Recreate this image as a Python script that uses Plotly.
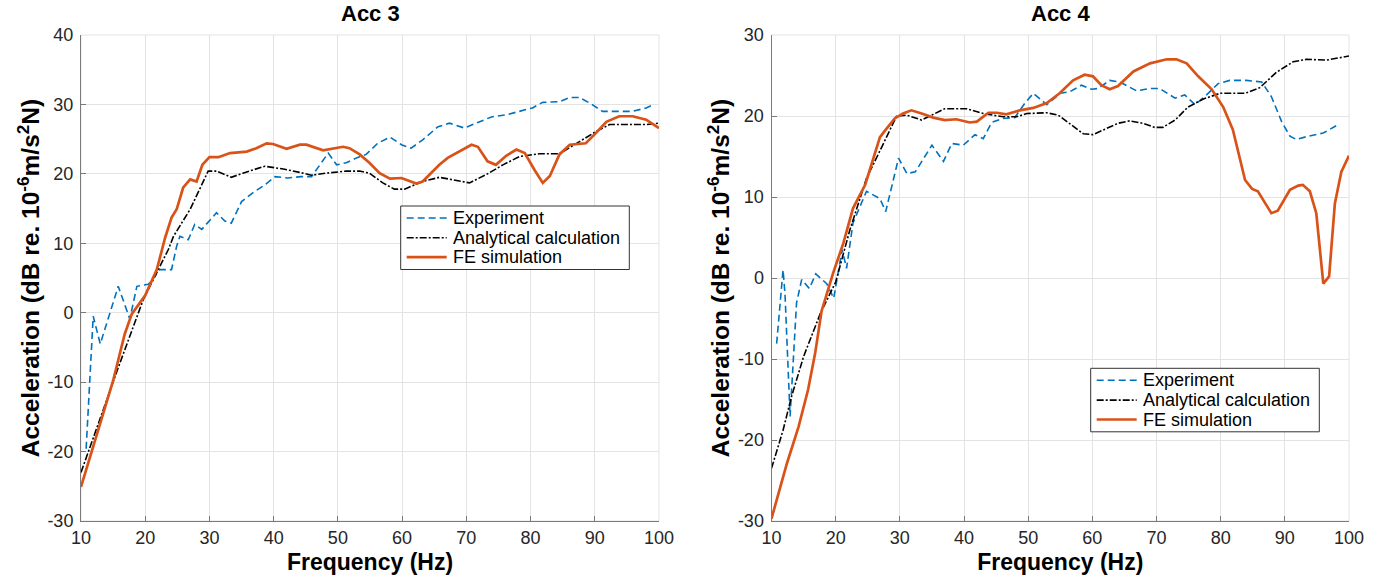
import plotly.graph_objects as go

# ---------------- data ----------------
# Acc 3
acc3_exp_f = [10.8, 11.9, 13.0, 15.8, 17.6, 18.7, 20.5, 22.3, 24.1, 24.9, 25.4, 26.7, 27.7, 28.8, 31.1, 32.4,
              33.4, 35.0, 36.8, 38.6, 40.2, 42.2, 44.3, 45.9, 48.5, 49.8, 51.3, 52.9, 54.4, 56.2, 58.1, 59.9,
              61.4, 63.2, 65.6, 67.4, 69.7, 71.5, 73.9, 76.2, 78.8, 80.3, 81.9, 84.5, 86.1, 87.6, 89.4, 91.2,
              93.3, 95.9, 98.0, 99.0]
acc3_exp_a = [-19.6, -0.5, -4.5, 3.8, -0.9, 3.8, 4.1, 6.2, 6.2, 9.6, 11.0, 10.5, 12.7, 12.0, 14.4, 13.2,
              12.9, 16.0, 17.3, 18.4, 19.6, 19.4, 19.6, 19.6, 23.0, 21.3, 21.6, 22.3, 22.8, 24.4, 25.3, 24.2,
              23.7, 24.9, 26.8, 27.3, 26.6, 27.3, 28.2, 28.5, 29.2, 29.5, 30.3, 30.4, 31.0, 31.0, 30.1, 29.0,
              29.0, 29.0, 29.5, 29.9]

acc3_ana_f = [10, 15.8, 19.7, 23.6, 24.4, 27.0, 29.8, 31.1, 33.4, 35.2, 38.6, 41.5, 44.1, 45.9, 48.2, 51.3,
              53.4, 54.9, 57.0, 58.8, 60.4, 63.2, 65.8, 67.9, 70.5, 73.1, 75.7, 78.3, 81.4, 84.5, 87.1, 90.2,
              92.3, 95.4, 98.0, 100]
acc3_ana_a = [-23.0, -7.9, 1.9, 9.1, 11.0, 14.9, 20.4, 20.4, 19.5, 20.1, 21.1, 20.7, 20.2, 19.8, 20.1, 20.4,
              20.4, 20.1, 18.7, 17.8, 17.8, 18.9, 19.5, 19.1, 18.7, 19.9, 21.3, 22.5, 22.9, 22.9, 24.4, 26.1,
              27.1, 27.1, 27.1, 27.3]

acc3_fe_f = [10, 15.0, 16.8, 17.9, 20.0, 21.0, 21.8, 23.1, 24.1, 24.9, 25.9, 27.0, 28.0, 28.9, 30.0, 31.4,
             33.2, 35.8, 37.3, 38.9, 39.9, 42.0, 44.1, 45.1, 47.7, 50.8, 51.8, 53.4, 54.9, 56.5, 58.1, 59.9,
             62.2, 63.2, 65.8, 67.1, 68.9, 70.8, 71.8, 73.3, 74.6, 76.2, 77.8, 79.1, 80.6, 81.9, 83.0, 84.5,
             86.1, 88.6, 90.2, 91.8, 93.8, 95.9, 98.0, 100]
acc3_fe_a = [-25.1, -9.8, -3.1, -0.2, 2.5, 4.6, 6.2, 10.8, 13.7, 14.9, 18.0, 19.2, 18.9, 21.3, 22.4, 22.4,
             23.0, 23.2, 23.7, 24.4, 24.3, 23.6, 24.2, 24.2, 23.4, 23.9, 23.7, 22.8, 21.6, 20.1, 19.3, 19.4,
             18.6, 18.9, 21.3, 22.3, 23.2, 24.2, 23.9, 21.8, 21.3, 22.6, 23.5, 23.0, 20.6, 18.7, 19.7, 22.8,
             24.2, 24.4, 25.9, 27.5, 28.3, 28.3, 27.8, 26.6]

# Acc 4
acc4_exp_f = [10.8, 11.8, 12.1, 12.9, 13.9, 14.7, 15.9, 16.9, 18.6, 19.7, 21.0, 21.7, 22.7, 24.8, 26.9, 27.8,
              29.8, 31.1, 32.4, 35.0, 36.8, 38.1, 39.9, 41.7, 43.0, 44.3, 46.1, 47.9, 49.5, 50.8, 52.9, 55.0,
              56.5, 58.3, 59.9, 60.9, 62.7, 64.3, 66.9, 68.9, 70.5, 72.9, 74.4, 76.0, 77.8, 79.6, 81.4, 84.0,
              86.4, 87.9, 89.5, 90.8, 91.8, 93.6, 96.0, 98.0]
acc4_exp_a = [-8.1, 1.0, -1.9, -17.1, -3.1, -0.2, -1.3, 0.5, -0.7, -2.5, 3.5, 1.2, 6.8, 10.7, 9.8, 8.2,
              14.8, 12.9, 13.1, 16.4, 14.4, 16.6, 16.4, 17.7, 17.2, 19.2, 19.7, 19.8, 21.6, 22.8, 21.4, 22.8,
              23.0, 23.8, 23.3, 23.4, 24.4, 24.2, 23.1, 23.4, 23.4, 22.2, 22.6, 21.4, 22.6, 24.0, 24.4, 24.4,
              24.2, 22.4, 19.3, 17.5, 17.1, 17.5, 17.9, 18.8]

acc4_ana_f = [10, 11.8, 13.1, 15.0, 17.6, 20.0, 22.2, 24.8, 27.2, 29.5, 31.1, 33.4, 35.2, 37.0, 40.4, 43.0,
              46.1, 48.2, 49.8, 52.9, 54.7, 56.8, 58.6, 60.1, 62.2, 64.0, 65.8, 67.9, 69.7, 71.0, 72.9, 74.9,
              77.3, 79.9, 83.8, 86.1, 88.7, 91.3, 93.4, 96.5, 100]
acc4_ana_a = [-23.5, -18.8, -14.7, -9.7, -4.4, -0.5, 5.9, 12.3, 16.2, 20.0, 20.1, 19.5, 20.2, 20.9, 20.9, 20.3,
              19.9, 19.9, 20.3, 20.4, 20.1, 18.9, 17.8, 17.7, 18.5, 19.1, 19.4, 19.1, 18.6, 18.6, 19.5, 21.1,
              22.1, 22.8, 22.8, 23.5, 25.4, 26.7, 27.0, 26.9, 27.4]

acc4_fe_f = [10, 12.4, 14.2, 15.7, 16.8, 17.8, 19.6, 21.2, 22.7, 24.6, 25.3, 26.9, 27.9, 29.2, 30.5, 31.8,
             33.4, 35.2, 37.0, 38.8, 40.9, 42.0, 43.8, 45.1, 46.6, 48.7, 50.8, 52.9, 54.9, 57.0, 58.8, 60.1,
             61.4, 62.7, 64.0, 66.4, 69.0, 71.6, 73.1, 74.7, 76.5, 78.6, 80.4, 81.9, 83.8, 84.9, 85.8, 87.9,
             88.9, 90.8, 92.1, 92.8, 93.9, 94.9, 96.0, 96.9, 97.8, 98.8, 100]
acc4_fe_a = [-29.7, -22.9, -18.4, -13.8, -9.3, -4.1, 0.6, 4.3, 8.6, 11.5, 13.3, 17.4, 18.4, 19.7, 20.3, 20.7,
             20.3, 19.8, 19.5, 19.6, 19.2, 19.3, 20.4, 20.4, 20.2, 20.7, 21.0, 21.6, 22.8, 24.4, 25.1, 24.9,
             23.8, 23.3, 23.7, 25.5, 26.5, 27.0, 27.0, 26.5, 24.9, 23.3, 21.1, 18.3, 12.1, 11.0, 10.7, 8.0,
             8.3, 10.9, 11.4, 11.5, 10.7, 8.0, -0.7, 0.2, 9.2, 13.1, 15.1]

series_names = ["Experiment", "Analytical calculation", "FE simulation"]
panel_titles = ["Acc 3", "Acc 4"]
x_ticks = [10, 20, 30, 40, 50, 60, 70, 80, 90, 100]
y_ticks_left = [-30, -20, -10, 0, 10, 20, 30, 40]
y_ticks_right = [-30, -20, -10, 0, 10, 20, 30]

# ---------------- styles ----------------
BLUE = "#0072BD"
BLACK = "#000000"
ORANGE = "#D95319"
FONT = "Liberation Sans, Arial, Helvetica, sans-serif"
W, H = 1380, 579

styles = [
    dict(color=BLUE, width=1.6, dash="7px,4px"),
    dict(color=BLACK, width=1.6, dash="7px,2px,2px,2px"),
    dict(color=ORANGE, width=2.7, dash="solid"),
]

fig = go.Figure()
panels = [
    ([acc3_exp_f, acc3_ana_f, acc3_fe_f], [acc3_exp_a, acc3_ana_a, acc3_fe_a], "x", "y"),
    ([acc4_exp_f, acc4_ana_f, acc4_fe_f], [acc4_exp_a, acc4_ana_a, acc4_fe_a], "x2", "y2"),
]
for xs, ys, xa, ya in panels:
    for name, fx, ay, st in zip(series_names, xs, ys, styles):
        fig.add_trace(go.Scatter(x=fx, y=ay, mode="lines", name=name, line=st,
                                 xaxis=xa, yaxis=ya, showlegend=False, hoverinfo="skip"))

xdom1 = [81 / W, 659 / W]
xdom2 = [771.5 / W, 1349 / W]
ydom = [(H - 521) / H, (H - 35) / H]

axis_common = dict(
    showgrid=True, gridcolor="#e3e3e3", gridwidth=1,
    showline=True, linecolor="#7a7a7a", linewidth=1,
    ticks="inside", ticklen=5, tickcolor="#7a7a7a", tickwidth=1,
    tickfont=dict(family=FONT, size=18, color="#262626"),
    zeroline=False, mirror=False, automargin=False,
)
ytitle = "<b>Acceleration (dB re. 10<sup>-6</sup>m/s<sup>2</sup>N)</b>"
xtitle = "<b>Frequency (Hz)</b>"
xt_font = dict(family=FONT, size=23, color="#000000")
yt_font = dict(family=FONT, size=24.5, color="#000000")

def tick_text(vals):
    return [str(v) for v in vals]

fig.update_layout(
    width=W, height=H,
    margin=dict(l=0, r=0, t=0, b=0, autoexpand=False),
    paper_bgcolor="white", plot_bgcolor="white",
    font=dict(family=FONT),
    showlegend=False,
    xaxis=dict(domain=xdom1, range=[10, 100], tickvals=x_ticks, ticktext=tick_text(x_ticks), anchor="y",
               title=dict(text=xtitle, font=xt_font, standoff=7), **axis_common),
    yaxis=dict(domain=ydom, range=[-30, 40], tickvals=y_ticks_left, ticktext=tick_text(y_ticks_left),
               anchor="x", ticklabelstandoff=3,
               title=dict(text=ytitle, font=yt_font, standoff=0), **axis_common),
    xaxis2=dict(domain=xdom2, range=[10, 100], tickvals=x_ticks, ticktext=tick_text(x_ticks), anchor="y2",
                title=dict(text=xtitle, font=xt_font, standoff=7), **axis_common),
    yaxis2=dict(domain=ydom, range=[-30, 30], tickvals=y_ticks_right, ticktext=tick_text(y_ticks_right),
                anchor="x2", ticklabelstandoff=3,
                title=dict(text=ytitle, font=yt_font, standoff=1), **axis_common),
)

# light frame on top/right (MATLAB box off with grid)
for xr, yr in (("x domain", "y domain"), ("x2 domain", "y2 domain")):
    fig.add_shape(type="rect", xref=xr, yref=yr, x0=0, x1=1, y0=0, y1=1,
                  line=dict(color="#e3e3e3", width=1), layer="below")

# subplot titles
for i, t in enumerate(panel_titles):
    xr = "x domain" if i == 0 else "x2 domain"
    fig.add_annotation(text="<b>" + t + "</b>", x=0.5, xref=xr, y=1 - 13 / H, yref="paper",
                       xanchor="center", yanchor="middle", showarrow=False,
                       font=dict(family=FONT, size=22, color="#000"))

# legends (drawn as boxed keys in pixel-space positions)
legend_boxes = [(400.7, 206.0), (1090.7, 368.3)]
BOX_W, BOX_H = 228.6, 63.5
ROW_DY = [12.0, 31.8, 51.2]

def pxx(v):
    return v / W

def pxy(v):
    return 1 - v / H

for bx, by in legend_boxes:
    fig.add_shape(type="rect", xref="paper", yref="paper",
                  x0=pxx(bx), x1=pxx(bx + BOX_W), y0=pxy(by + BOX_H), y1=pxy(by),
                  line=dict(color="#333333", width=1), fillcolor="white", layer="above")
    for name, st, dy in zip(series_names, styles, ROW_DY):
        ry = by + dy
        fig.add_shape(type="line", xref="paper", yref="paper",
                      x0=pxx(bx + 6), x1=pxx(bx + 46), y0=pxy(ry), y1=pxy(ry),
                      line=st, layer="above")
        fig.add_annotation(text=name, xref="paper", yref="paper", x=pxx(bx + 50), y=pxy(ry),
                           xanchor="left", yanchor="middle", showarrow=False,
                           font=dict(family=FONT, size=18, color="#000"))

fig.write_html("out.html")
